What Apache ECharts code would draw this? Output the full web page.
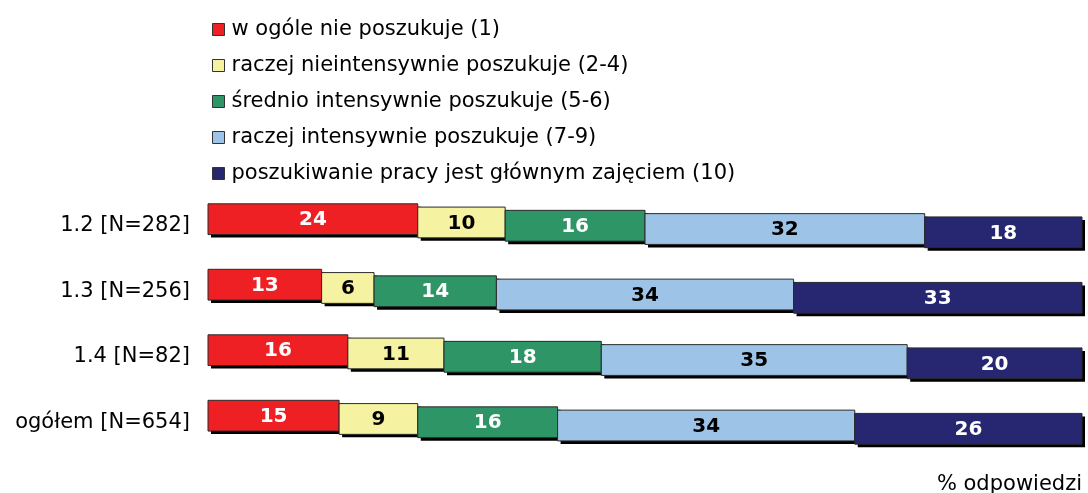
<!DOCTYPE html>
<html>
<head>
<meta charset="utf-8">
<script src="https://cdn.jsdelivr.net/npm/echarts@6/dist/echarts.min.js"></script>
<style>html,body{margin:0;padding:0;background:#fff}#c{width:1088px;height:493px}</style>
</head>
<body>
<div id="c"></div>
<script>
const categories = ['1.2 [N=282]', '1.3 [N=256]', '1.4 [N=82]', 'ogółem [N=654]'];
const seriesNames = [
  'w ogóle nie poszukuje (1)',
  'raczej nieintensywnie poszukuje (2-4)',
  'średnio intensywnie poszukuje (5-6)',
  'raczej intensywnie poszukuje (7-9)',
  'poszukiwanie pracy jest głównym zajęciem (10)'
];
const nieposzukuje = [24, 13, 16, 15];
const nieintensywnie = [10, 6, 11, 9];
const srednio = [16, 14, 18, 16];
const intensywnie = [32, 34, 35, 34];
const glowne = [18, 33, 20, 26];

const allValues = [nieposzukuje, nieintensywnie, srednio, intensywnie, glowne];
const colors = ['#EE2024', '#F5F3A1', '#2E9566', '#9DC3E6', '#262671'];
const labelColors = ['#fff', '#000', '#fff', '#000', '#fff'];

const FONT = '"DejaVu Sans", Verdana, sans-serif';

// cumulative starts
const starts = allValues.map(() => categories.map(() => 0));
for (let c = 0; c < categories.length; c++) {
  let acc = 0;
  for (let s = 0; s < allValues.length; s++) {
    starts[s][c] = acc;
    acc += allValues[s][c];
  }
}

function makeRender(sIdx) {
  return function (params, api) {
    const cat = api.value(0);
    const x0 = api.value(1);
    const x1 = api.value(2);
    const val = api.value(3);
    const p0 = api.coord([x0, cat]);
    const p1 = api.coord([x1, cat]);
    const band = api.size([0, 1])[1];
    const h = band * 0.47;
    const off = (sIdx - 2) * band * 0.05;
    const yc = p0[1] + off;
    const w = p1[0] - p0[0];
    return {
      type: 'group',
      children: [
        {
          type: 'rect',
          shape: { x: p0[0] + 3, y: yc - h / 2 + 3, width: w, height: h },
          style: { fill: '#000' },
          z2: 0
        },
        {
          type: 'rect',
          shape: { x: p0[0], y: yc - h / 2, width: w, height: h },
          style: { fill: colors[sIdx], stroke: '#2a2a2a', lineWidth: 1 },
          z2: 1
        },
        {
          type: 'text',
          style: {
            x: (p0[0] + p1[0]) / 2, y: yc + 1,
            text: String(val), fill: labelColors[sIdx],
            font: 'bold 20px ' + FONT, align: 'center', verticalAlign: 'middle'
          },
          z2: 10
        }
      ]
    };
  };
}

const series = allValues.map((vals, s) => ({
  name: seriesNames[s],
  type: 'custom',
  renderItem: makeRender(s),
  itemStyle: { color: colors[s] },
  encode: { x: [1, 2], y: 0 },
  data: vals.map((v, c) => [c, starts[s][c], starts[s][c] + v, v]),
  z: 2 + s
}));

const chart = echarts.init(document.getElementById('c'));
chart.setOption({
  backgroundColor: '#fff',
  animation: false,
  textStyle: { fontFamily: FONT },
  title: {
    text: '% odpowiedzi', right: 6, top: 474, padding: 0,
    textStyle: { fontFamily: FONT, fontSize: 21, fontWeight: 'normal', color: '#000' }
  },
  legend: {
    orient: 'vertical', left: 212, top: 19, padding: 0,
    itemWidth: 12, itemHeight: 12, itemGap: 15,
    icon: 'rect',
    itemStyle: { borderColor: '#333', borderWidth: 1, shadowColor: 'transparent' },
    textStyle: { fontFamily: FONT, fontSize: 21, color: '#000', lineHeight: 21, padding: [0, 0, 0, 2] },
    data: seriesNames
  },
  grid: { left: 208, right: 6, top: 193, height: 262 },
  xAxis: { type: 'value', min: 0, max: 100, show: false },
  yAxis: {
    type: 'category', data: categories, inverse: true,
    axisLine: { show: false }, axisTick: { show: false }, splitLine: { show: false },
    axisLabel: { fontFamily: FONT, fontSize: 21, color: '#000', margin: 18 }
  },
  series: series
});
</script>
</body>
</html>
